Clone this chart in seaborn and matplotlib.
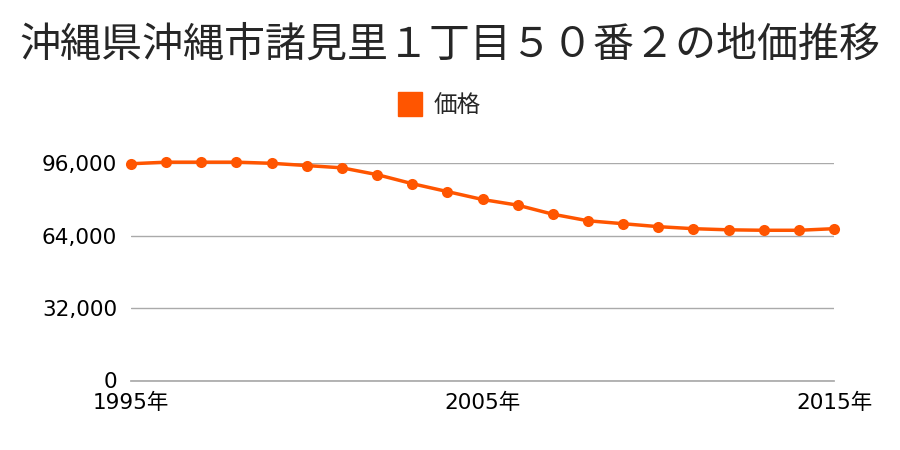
import matplotlib
matplotlib.use("Agg")
import matplotlib.pyplot as plt
import seaborn as sns
import pandas as pd
from matplotlib.ticker import FuncFormatter
from matplotlib.lines import Line2D

years = list(range(1995, 2016))
prices = [95800, 96500, 96500, 96500, 96000, 95000, 94000, 91000, 87000, 83500,
          80000, 77500, 73500, 70600, 69300, 68000, 67100, 66600, 66400, 66400, 67100]
title = "沖縄県沖縄市諸見里１丁目５０番２の地価推移"
series_label = "価格"
yticks = [0, 32000, 64000, 96000]
xticks = [1995, 2005, 2015]

sns.set_theme(style="white")
plt.rcParams['font.family'] = ['DejaVu Sans', 'Noto Sans CJK JP']

color = "#FF5500"
df = pd.DataFrame({"year": years, "price": prices})

fig = plt.figure(figsize=(9, 4.5), dpi=100)
ax = fig.add_axes([131/900, 1-380.5/450, (834-131)/900, (380.5-163.3)/450])

sns.lineplot(data=df, x="year", y="price", ax=ax, color=color, linewidth=2.5,
             marker="o", markersize=8, markeredgewidth=0, clip_on=False, zorder=3)

ax.set_xlim(1995, 2015)
ax.set_ylim(0, 96000)
ax.set_yticks(yticks)
ax.set_xticks(xticks)
ax.yaxis.set_major_formatter(FuncFormatter(lambda v, p: f"{int(v):,}"))
ax.set_xticklabels([f"{y}年" for y in xticks])
ax.grid(axis="y", color="#aaaaaa", linewidth=1)
ax.set_axisbelow(True)
for s in ["top", "right", "left"]:
    ax.spines[s].set_visible(False)
ax.spines["bottom"].set_color("#aaaaaa")
ax.tick_params(axis="both", length=0, labelsize=15.5, colors="black")
ax.tick_params(axis="y", pad=10)
ax.tick_params(axis="x", pad=9)
ax.set_xlabel("")
ax.set_ylabel("")

fig.text(0.5, 1-45/450, title, ha="center", va="center", fontsize=29.5,
         family=['Noto Sans CJK JP', 'DejaVu Sans'])
handle = Line2D([], [], marker="s", color=color, linestyle="none", markersize=17)
fig.legend([handle], [series_label], loc="center", bbox_to_anchor=(434/900, 1-106/450),
           frameon=False, prop={'family': ['Noto Sans CJK JP'], 'size': 17},
           handletextpad=0.0)

fig.savefig("out.png", dpi=100)
